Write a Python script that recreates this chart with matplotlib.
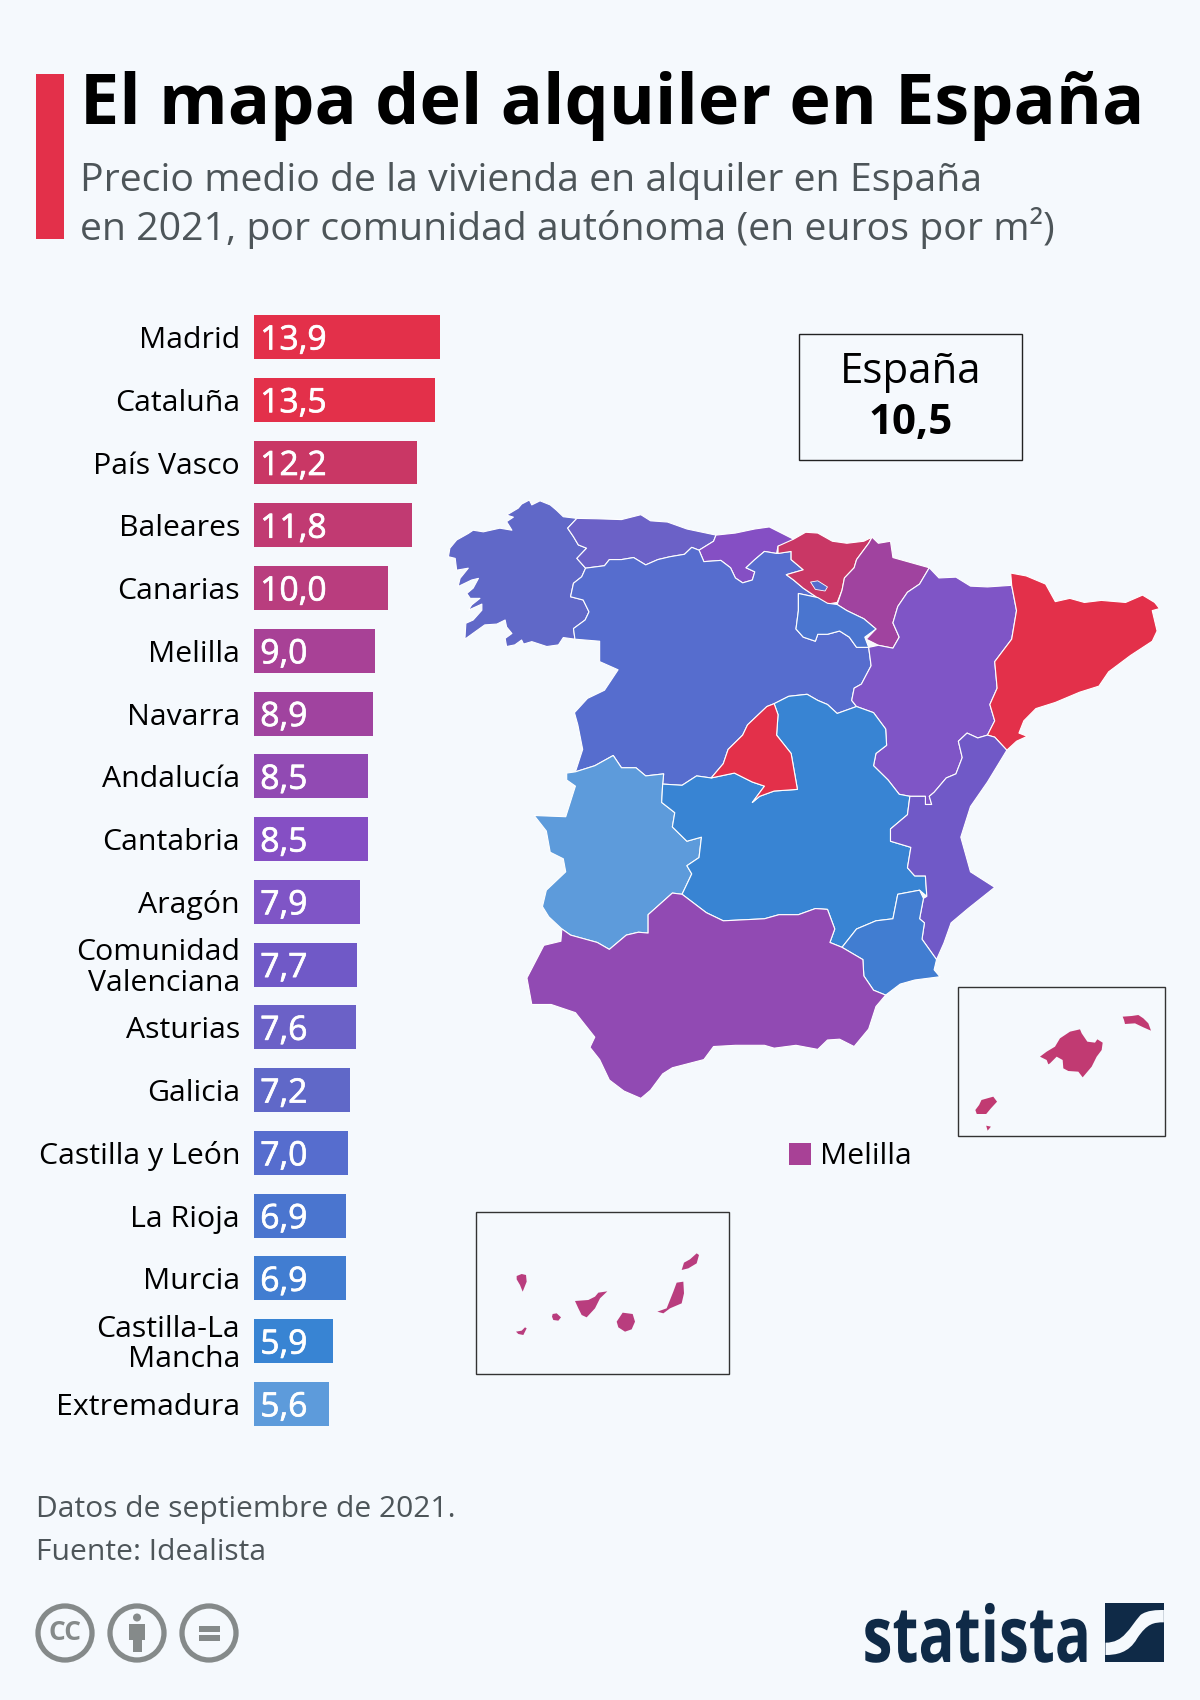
import matplotlib
matplotlib.use("Agg")
import matplotlib.pyplot as plt
from matplotlib.patches import Polygon, Rectangle, Circle, PathPatch
from matplotlib.path import Path
from matplotlib.patheffects import AbstractPathEffect, withStroke
from matplotlib.transforms import Affine2D

plt.rcParams['font.family'] = ['Open Sans', 'DejaVu Sans']

BG = '#f5f9fd'
# ---------- data ----------
regions = ['Madrid', 'Cataluña', 'País Vasco', 'Baleares', 'Canarias', 'Melilla', 'Navarra',
           'Andalucía', 'Cantabria', 'Aragón', 'Comunidad\nValenciana', 'Asturias', 'Galicia',
           'Castilla y León', 'La Rioja', 'Murcia', 'Castilla-La\nMancha', 'Extremadura']
values = [13.9, 13.5, 12.2, 11.8, 10.0, 9.0, 8.9, 8.5, 8.5, 7.9, 7.7, 7.6, 7.2, 7.0, 6.9, 6.9, 5.9, 5.6]
value_labels = ['13,9', '13,5', '12,2', '11,8', '10,0', '9,0', '8,9', '8,5', '8,5', '7,9', '7,7', '7,6',
                '7,2', '7,0', '6,9', '6,9', '5,9', '5,6']
colors = ['#e3304a', '#e3304a', '#c93765', '#c13a72', '#b93d7e', '#a84196', '#a0439f', '#914ab3', '#854fc4',
          '#7f55c6', '#7059c7', '#6b61c7', '#6068c8', '#566dce', '#4a75cf', '#417dd1', '#3884d3', '#5d9bdb']
color_of = dict(zip(regions, colors))

# map outlines
galicia = [(303,94),(275,90),(261,74),(248,61),(227,51),(210,61),(205,49),(189,59),(182,69),(158,86),(172,91),(158,102),(169,123),(144,118),(110,127),(89,123),(79,131),(55,147),(41,167),(38,188),(52,192),(55,221),(79,216),(62,241),(58,261),(86,245),(100,241),(89,265),(76,278),(83,290),(103,290),(86,306),(79,319),(107,304),(107,319),(89,343),(74,351),(72,390),(93,372),(113,355),(138,353),(155,343),(158,360),(169,376),(155,388),(158,408),(175,404),(189,392),(193,402),(210,396),(241,408),(265,404),(275,386),(299,390),(296,364),(320,343),(328,323),(316,294),(290,286),(296,253),(313,237),(321,216),(303,192),(323,167),(306,159),(296,139),(284,118)]
asturias = [(303,94),(345,95),(395,97),(435,85),(455,100),(490,103),(530,120),(590,135),(585,150),(555,172),(540,165),(525,182),(495,188),(470,195),(445,208),(420,190),(395,195),(370,195),(360,210),(321,216),(303,192),(323,167),(306,159),(296,139),(284,118)]
cantabria = [(590,135),(630,130),(670,120),(700,115),(750,145),(745,155),(718,162),(715,180),(690,175),(670,195),(652,215),(670,225),(665,245),(645,252),(630,240),(620,215),(600,197),(565,200),(555,172),(585,150)]
pais_vasco = [(750,145),(775,128),(800,130),(830,150),(860,155),(895,150),(912,140),(905,155),(880,195),(875,215),(855,240),(850,270),(840,300),(815,305),(795,285),(770,265),(750,245),(735,232),(770,220),(745,195),(745,175),(718,180),(718,162)]
trevino = [(785,250),(800,247),(820,262),(815,272),(795,268)]
navarra = [(912,140),(925,155),(950,150),(955,190),(985,200),(1030,215),(1010,255),(985,275),(965,310),(955,350),(968,385),(955,412),(925,405),(900,390),(920,365),(895,340),(860,320),(840,305),(850,270),(855,240),(875,215),(880,195),(905,155)]
aragon = [(1030,215),(1050,240),(1085,238),(1115,260),(1150,262),(1200,258),(1210,320),(1200,390),(1165,445),(1170,510),(1155,550),(1165,590),(1150,625),(1130,632),(1108,620),(1090,640),(1098,680),(1085,720),(1065,730),(1040,765),(1030,775),(1035,795),(1022,795),(1022,775),(990,775),(968,770),(945,735),(915,700),(920,670),(942,650),(940,610),(915,570),(880,555),(870,540),(875,510),(890,500),(910,455),(905,410),(925,405),(955,412),(968,385),(955,350),(965,310),(985,275),(1010,255)]
cataluna = [(1198,228),(1230,235),(1270,255),(1290,298),(1320,290),(1350,300),(1385,295),(1435,300),(1470,282),(1495,300),(1505,315),(1490,320),(1500,370),(1490,395),(1445,430),(1400,470),(1380,505),(1340,520),(1290,545),(1250,560),(1225,590),(1215,620),(1232,628),(1210,640),(1190,662),(1165,630),(1150,625),(1165,590),(1155,550),(1170,510),(1165,445),(1200,390),(1210,320),(1200,258)]
rioja = [(760,278),(800,288),(820,302),(840,305),(860,320),(895,340),(920,365),(897,385),(905,410),(880,410),(865,385),(845,370),(820,378),(800,378),(795,395),(770,385),(755,365),(760,320)]
cyl = [(321,216),(360,210),(370,195),(395,195),(420,190),(445,208),(470,195),(495,188),(525,182),(540,165),(555,172),(565,200),(600,197),(620,215),(630,240),(645,252),(665,245),(670,225),(652,215),(670,195),(690,175),(715,180),(745,175),(745,195),(770,220),(735,232),(750,245),(770,265),(795,285),(800,288),(760,278),(760,320),(755,365),(770,385),(795,395),(800,378),(820,378),(845,370),(865,385),(880,410),(905,410),(910,455),(890,500),(875,510),(870,540),(880,555),(840,572),(820,550),(800,540),(778,525),(740,530),(710,548),(695,555),(655,600),(645,625),(615,660),(605,695),(580,730),(550,725),(520,748),(480,745),(482,720),(445,725),(425,705),(395,705),(378,675),(340,700),(300,715),(315,660),(305,600),(298,570),(325,535),(360,515),(388,465),(350,445),(350,395),(299,390),(296,364),(320,343),(328,323),(316,294),(290,286),(296,253),(313,237)]
extremadura = [(300,715),(340,700),(378,675),(395,705),(425,705),(445,725),(482,720),(480,745),(478,790),(505,815),(500,850),(530,885),(560,875),(555,925),(530,945),(540,965),(520,1015),(500,1012),(450,1065),(450,1110),(430,1108),(405,1115),(370,1150),(345,1133),(290,1115),(272,1100),(245,1070),(232,1045),(240,1005),(280,960),(275,928),(248,912),(240,860),(215,822),(280,825),(300,750),(282,735),(282,718)]
clm = [(480,745),(520,748),(550,725),(580,730),(628,718),(665,740),(690,750),(665,790),(680,775),(710,762),(758,758),(745,670),(715,625),(718,575),(710,548),(740,530),(778,525),(800,540),(820,550),(840,572),(880,555),(915,570),(940,610),(942,650),(920,670),(915,700),(945,735),(968,770),(990,775),(985,820),(950,855),(950,885),(992,900),(985,950),(1000,970),(1022,970),(1025,1020),(1010,1005),(965,1015),(955,1075),(920,1080),(880,1100),(850,1145),(825,1133),(835,1100),(820,1052),(795,1050),(760,1065),(720,1065),(690,1075),(605,1080),(570,1060),(520,1015),(540,965),(530,945),(555,925),(560,875),(530,885),(500,850),(505,815),(478,790)]
madrid = [(695,555),(710,548),(718,575),(715,625),(745,670),(758,758),(710,762),(680,775),(665,790),(690,750),(665,740),(628,718),(580,730),(605,695),(615,660),(645,625),(655,600)]
valencia = [(1108,620),(1130,632),(1150,625),(1165,630),(1190,662),(1150,740),(1115,800),(1095,875),(1115,960),(1165,998),(1110,1050),(1075,1085),(1060,1135),(1045,1175),(1015,1125),(1020,1085),(1010,1075),(1018,1025),(1025,1020),(1022,970),(1000,970),(985,950),(992,900),(950,885),(950,855),(985,820),(990,775),(1022,775),(1022,795),(1035,795),(1030,775),(1040,765),(1065,730),(1085,720),(1098,680),(1090,640)]
murcia = [(1010,1005),(1018,1025),(1010,1075),(1020,1085),(1015,1125),(1045,1175),(1040,1200),(1052,1217),(1000,1225),(970,1235),(940,1262),(915,1250),(895,1215),(893,1175),(850,1145),(880,1100),(920,1080),(955,1075),(965,1015)]
andalucia = [(272,1100),(290,1115),(345,1133),(370,1150),(405,1115),(430,1108),(450,1110),(450,1065),(500,1012),(520,1015),(570,1060),(605,1080),(690,1075),(720,1065),(760,1065),(795,1050),(820,1052),(835,1100),(825,1133),(850,1145),(893,1175),(895,1215),(915,1250),(940,1262),(920,1290),(905,1345),(875,1388),(845,1370),(820,1372),(800,1395),(755,1385),(710,1392),(690,1385),(630,1385),(585,1388),(565,1420),(500,1440),(480,1455),(455,1495),(435,1515),(400,1497),(370,1470),(350,1420),(330,1390),(340,1365),(300,1305),(250,1285),(210,1285),(200,1220),(235,1140),(270,1130)]
mainland = [('Galicia', galicia), ('Asturias', asturias), ('Cantabria', cantabria), ('Castilla y León', cyl),
            ('País Vasco', pais_vasco), ('Navarra', navarra), ('Aragón', aragon), ('Cataluña', cataluna),
            ('La Rioja', rioja), ('Extremadura', extremadura), ('Castilla-La\nMancha', clm), ('Madrid', madrid),
            ('Comunidad\nValenciana', valencia), ('Murcia', murcia), ('Andalucía', andalucia)]

mallorca_menorca = [
    [(240,88),(245,100),(262,125),(285,128),(292,118),(308,128),(305,150),(290,170),(275,200),(248,232),(235,215),(205,213),(190,205),(188,180),(170,170),(150,190),(145,193),(140,180),(120,170),(140,155),(165,140),(180,115),(210,95)],
    [(368,50),(395,48),(415,45),(430,55),(445,70),(453,92),(430,82),(405,70),(375,72),(372,60)],
]
ibiza_formentera = [
    [(1130,410),(1138,425),(1125,445),(1115,462),(1095,462),(1092,450),(1100,435),(1105,420)],
    [(1115,497),(1125,500),(1118,512)],
]
canarias_islands = [
    [(50,108),(65,102),(78,105),(80,125),(68,155),(60,135),(50,118)],
    [(48,275),(65,272),(75,262),(80,265),(70,285),(55,282)],
    [(158,222),(170,220),(183,232),(175,242),(160,240),(156,230)],
    [(225,183),(265,180),(285,170),(295,158),(322,154),(300,175),(285,205),(260,232),(245,225),(235,205)],
    [(368,218),(398,222),(405,245),(395,268),(375,275),(355,262),(350,245)],
    [(530,128),(550,125),(552,160),(545,190),(510,205),(490,220),(472,215),(500,205),(510,180),(520,155)],
    [(590,40),(597,45),(590,70),(565,85),(545,90),(552,68),(570,58)],
]

# ---------- figure ----------
fig = plt.figure(figsize=(12, 17), dpi=100, facecolor=BG)
ax = fig.add_axes([0, 0, 1, 1], facecolor='none')
ax.set_xlim(0, 1200); ax.set_ylim(1700, 0); ax.axis('off')

def m1(p):
    return [(430 + x / 2.063, 480 + y / 2.45) for x, y in p]
def m2(p):
    return [(460 + x / 2.119, 960 + y / 3.0) for x, y in p]
def m4(p):
    return [(1000 + x / 3, 1000 + y / 3) for x, y in p]
def m5(p):
    return [(500 + x / 3, 1240 + y / 3) for x, y in p]

# header
ax.add_patch(Rectangle((36, 74), 28, 165, fc='#e3304a', ec='none'))
ax.text(80, 105.5, 'El mapa del alquiler en España', fontsize=50.5, fontweight='bold', color='black', va='center', ha='left')
ax.text(80, 181, 'Precio medio de la vivienda en alquiler en España', fontsize=28.25, color='#4d5559', va='center', ha='left')
ax.text(80, 227.5, 'en 2021, por comunidad autónoma (en euros por m²)', fontsize=28.25, color='#4d5559', va='center', ha='left')

# bars
px_per_unit = 13.4
row0, row_pitch = 337, 62.76
top = row0 - row_pitch / 2
bot = row0 + 17 * row_pitch + row_pitch / 2
axb = fig.add_axes([254 / 1200, 1 - bot / 1700, 200 / 1200, (bot - top) / 1700], facecolor='none')
axb.set_xlim(0, 200 / px_per_unit)
axb.set_ylim(len(regions) - 0.5, -0.5)
ypos = list(range(len(regions)))
axb.barh(ypos, values, height=0.70, color=colors)
for s in axb.spines.values():
    s.set_visible(False)
axb.set_xticks([])
axb.set_yticks(ypos)
axb.set_yticklabels(regions, fontsize=21.8, color='black', linespacing=1.07, ha='right', va='center')
axb.tick_params(axis='y', length=0, pad=10)
offset = Affine2D().translate(0, -3.5)
for lab in axb.get_yticklabels():
    lab.set_transform(lab.get_transform() + offset)
for y, lab in zip(ypos, value_labels):
    t = axb.annotate(lab, (0, y), xytext=(4.5, -2.5), textcoords='offset points', color='white',
                     fontsize=24.2, va='center', ha='left')
    t.set_path_effects([withStroke(linewidth=0.5, foreground='white')])

# map
for name, poly in mainland:
    ax.add_patch(Polygon(m1(poly), closed=True, fc=color_of[name], ec='white', lw=0.8, joinstyle='round', zorder=3))
ax.add_patch(Polygon(m1(trevino), closed=True, fc=color_of['Castilla y León'], ec='white', lw=0.6, zorder=4))

# España box
ax.add_patch(Rectangle((799, 334), 223, 126, fc='none', ec='#222222', lw=1))
ax.text(910.5, 372, 'España', fontsize=30.3, ha='center', va='center', color='black')
ax.text(910.5, 423, '10,5', fontsize=30.3, fontweight='bold', ha='center', va='center', color='black')

# insets
ax.add_patch(Rectangle((958, 987), 207, 149, fc='none', ec='#333333', lw=1))
for p in mallorca_menorca:
    ax.add_patch(Polygon(m4(p), closed=True, fc=color_of['Baleares'], ec='none'))
for p in ibiza_formentera:
    ax.add_patch(Polygon(m2(p), closed=True, fc=color_of['Baleares'], ec='none'))
ax.add_patch(Rectangle((475.5, 1211.5), 253, 162, fc='none', ec='#333333', lw=1))
for p in canarias_islands:
    ax.add_patch(Polygon(m5(p), closed=True, fc=color_of['Canarias'], ec='none'))
ax.add_patch(Rectangle((788.5, 1143), 22.5, 22, fc=color_of['Melilla'], ec='none'))
ax.text(820, 1156, 'Melilla', fontsize=21.7, color='black', va='center', ha='left')

# footer
ax.text(36, 1510, 'Datos de septiembre de 2021.', fontsize=21.6, color='#4d5559', va='center', ha='left')
ax.text(36, 1552, 'Fuente: Idealista', fontsize=21.6, color='#4d5559', va='center', ha='left')

grey = '#858a8a'
for cx in (65, 137, 209):
    ax.add_patch(Circle((cx, 1633), 27, fc='none', ec=grey, lw=3.8))
ax.text(65, 1632, 'CC', fontsize=19, fontweight='bold', color=grey, ha='center', va='center')
ax.add_patch(Circle((137, 1617.5), 4, fc=grey, ec='none'))
ax.add_patch(Rectangle((129, 1624), 16, 16, fc=grey, ec='none'))
ax.add_patch(Rectangle((132.5, 1636), 9, 16, fc=grey, ec='none'))
ax.add_patch(Rectangle((199, 1626), 21, 6, fc=grey, ec='none'))
ax.add_patch(Rectangle((199, 1635), 21, 6, fc=grey, ec='none'))


class Squeeze(AbstractPathEffect):
    """Draws text narrower about a fixed x, as the condensed logo lettering is."""
    def __init__(self, sx, x0):
        super().__init__()
        self.sx, self.x0 = sx, x0

    def draw_path(self, renderer, gc, tpath, affine, rgbFace=None):
        t = affine + Affine2D().translate(-self.x0, 0).scale(self.sx, 1).translate(self.x0, 0)
        renderer.draw_path(gc, tpath, t, rgbFace)


# statista logo
navy = '#0f2a47'
logo = ax.text(1091, 1662, 'statista', fontsize=56, fontweight='bold', color=navy, ha='right', va='baseline')
logo.set_path_effects([Squeeze(0.771, 1091)])
ax.add_patch(Rectangle((1105, 1603), 59, 59, fc=navy, ec='none'))
def lz(x, y):
    return (1090.5 + x / 3, 1590 + y / 3)
verts = [lz(45,158), lz(100,158), lz(115,115), lz(150,75), lz(170,60), lz(200,60), lz(220,60),
         lz(220,97), lz(190,97), lz(170,100), lz(140,145), lz(115,190), lz(75,195), lz(45,195), lz(45,158)]
codes = [Path.MOVETO, Path.CURVE4, Path.CURVE4, Path.CURVE4, Path.CURVE4, Path.CURVE4, Path.CURVE4,
         Path.LINETO, Path.CURVE4, Path.CURVE4, Path.CURVE4, Path.CURVE4, Path.CURVE4, Path.CURVE4, Path.CLOSEPOLY]
ax.add_patch(PathPatch(Path(verts, codes), fc=BG, ec='none'))

fig.savefig('out.png', dpi=100, facecolor=BG)
